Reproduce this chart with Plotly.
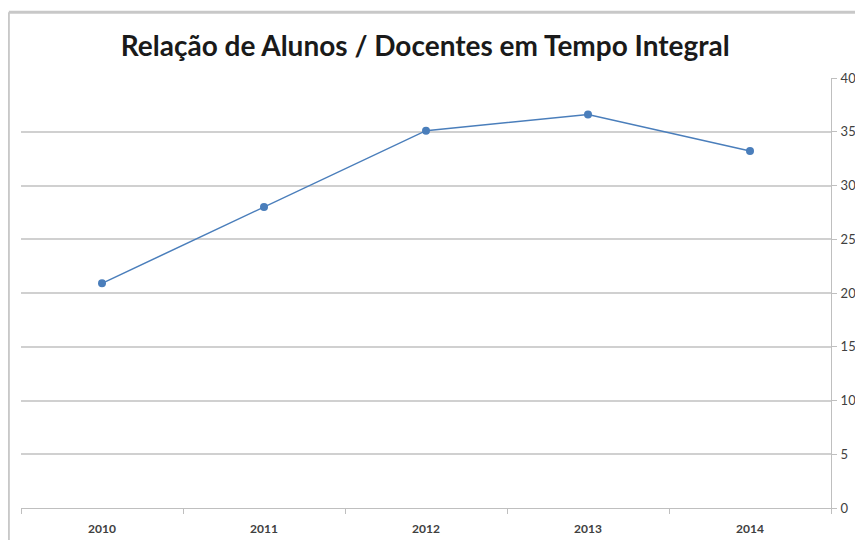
import plotly.graph_objects as go

anos = ["2010", "2011", "2012", "2013", "2014"]
relacao = [20.9, 28.0, 35.1, 36.6, 33.2]
y_ticks = [0, 5, 10, 15, 20, 25, 30, 35, 40]

# the page body adds an 8px margin, so the figure is a bit smaller than the window
fig = go.Figure()
fig.add_trace(go.Scatter(
    x=anos,
    y=relacao,
    mode="lines+markers",
    line=dict(color="#4a7ebb", width=1.5),
    marker=dict(color="#4a7ebb", size=8),
))

fig.update_layout(
    width=855,
    height=532,
    margin=dict(l=13, r=32, t=70, b=32),
    paper_bgcolor="white",
    plot_bgcolor="white",
    showlegend=False,
    font=dict(family="Lato", color="#404040"),
    title=dict(
        text="<b>Relação de Alunos / Docentes em Tempo Integral</b>",
        x=0.488, xanchor="center", y=0.928, yanchor="middle",
        font=dict(family="Lato", size=28, color="#1a1a1a"),
    ),
    shapes=[
        dict(type="line", xref="paper", yref="paper", x0=-0.015, x1=1.05,
             y0=1.153, y1=1.153, line=dict(color="#c8c8c8", width=3)),
        dict(type="line", xref="paper", yref="paper", x0=-0.015, x1=-0.015,
             y0=1.153, y1=-0.08, line=dict(color="#c8c8c8", width=2)),
    ],
)

fig.update_xaxes(
    type="category",
    range=[-0.5, len(anos) - 0.5],
    automargin=False,
    tickson="boundaries",
    ticks="outside",
    ticklen=5,
    tickcolor="#bfbfbf",
    showline=True,
    linecolor="#bfbfbf",
    showgrid=False,
    ticklabelstandoff=10,
    tickfont=dict(size=12, color="#404040", family="Lato"),
    tickprefix="<b>", ticksuffix="</b>",
)

fig.update_yaxes(
    side="right",
    range=[0, 40],
    automargin=False,
    tickvals=y_ticks,
    ticks="outside",
    ticklen=5,
    tickcolor="#bfbfbf",
    showline=True,
    linecolor="#bfbfbf",
    gridcolor="#d0d0d0",
    gridwidth=1.5,
    zeroline=False,
    ticklabelstandoff=1,
    tickfont=dict(size=13, color="#404040", family="Lato"),
    tickprefix="<b>", ticksuffix="</b>",
)

fig.write_html("out.html")
